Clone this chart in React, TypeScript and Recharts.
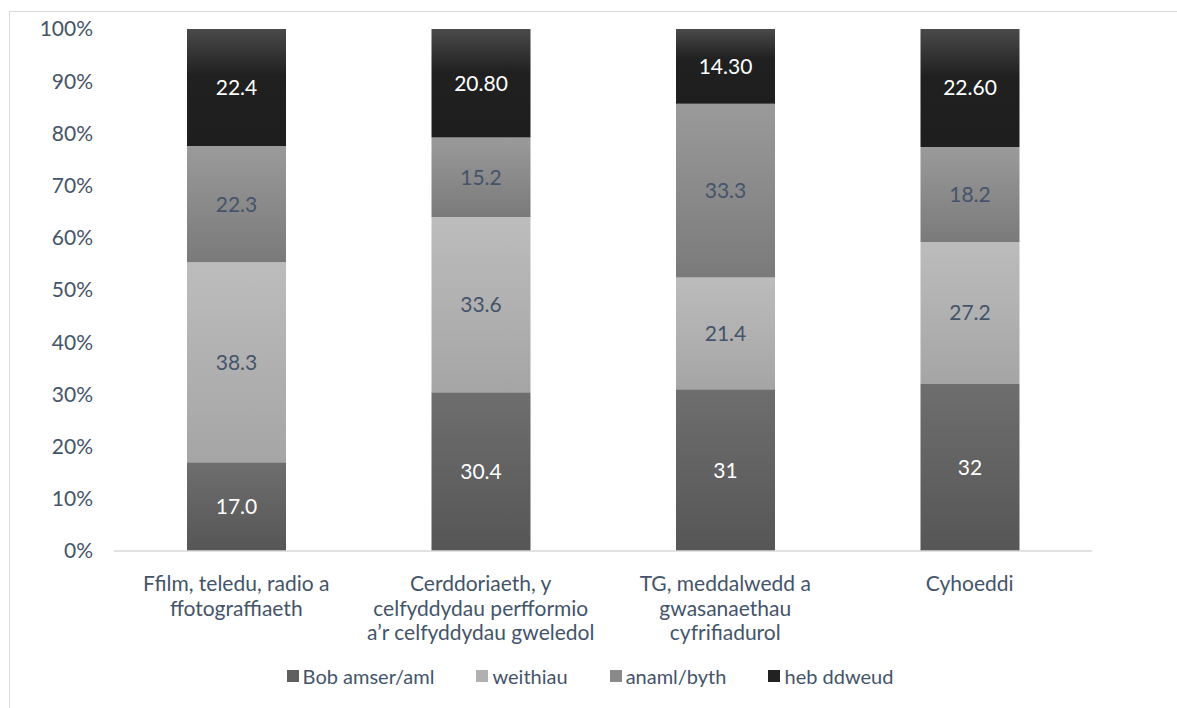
import { useLayoutEffect } from "react";
import { Bar, BarChart, LabelList, Legend, XAxis, YAxis } from "recharts";

const categories = [
  "Ffilm, teledu, radio a\nffotograffiaeth",
  "Cerddoriaeth, y\ncelfyddydau perfformio\na’r celfyddydau gweledol",
  "TG, meddalwedd a\ngwasanaethau\ncyfrifiadurol",
  "Cyhoeddi",
];

const bobAmser = [17.0, 30.4, 31, 32];
const weithiau = [38.3, 33.6, 21.4, 27.2];
const anaml = [22.3, 15.2, 33.3, 18.2];
const hebDdweud = [22.4, 20.8, 14.3, 22.6];

const bobAmserLabels = ["17.0", "30.4", "31", "32"];
const weithiauLabels = ["38.3", "33.6", "21.4", "27.2"];
const anamlLabels = ["22.3", "15.2", "33.3", "18.2"];
const hebDdweudLabels = ["22.4", "20.80", "14.30", "22.60"];

const yTicks = [0, 10, 20, 30, 40, 50, 60, 70, 80, 90, 100];

const TEXT = "#44546a";
const FONT = "Lato, Calibri, sans-serif";

const series = [
  { key: "bob", name: "Bob amser/aml", grad: "gBob", swatch: "#5f5f5f", label: "#ffffff" },
  { key: "weithiau", name: "weithiau", grad: "gWeithiau", swatch: "#b0b0b0", label: TEXT },
  { key: "anaml", name: "anaml/byth", grad: "gAnaml", swatch: "#8a8a8a", label: TEXT },
  { key: "heb", name: "heb ddweud", grad: "gHeb", swatch: "#222222", label: "#ffffff" },
];

const data = categories.map((name, i) => ({
  name,
  bob: bobAmser[i],
  weithiau: weithiau[i],
  anaml: anaml[i],
  heb: hebDdweud[i],
  bobLabel: bobAmserLabels[i],
  weithiauLabel: weithiauLabels[i],
  anamlLabel: anamlLabels[i],
  hebLabel: hebDdweudLabels[i],
}));

const CategoryTick = ({ x, y, payload }: any) => {
  const lines = String(payload.value).split("\n");
  return (
    <g transform={`translate(${x},${y})`}>
      <text textAnchor="middle" fill={TEXT} fontSize={21} fontFamily={FONT}>
        {lines.map((line, i) => (
          <tspan key={i} x={0} y={38 + i * 24.5}>
            {line}
          </tspan>
        ))}
      </text>
    </g>
  );
};

const LegendContent = () => (
  <div
    style={{
      display: "flex",
      justifyContent: "center",
      gap: 42,
      fontFamily: FONT,
      fontSize: 20,
      color: TEXT,
      lineHeight: "24px",
    }}
  >
    {series.map((s) => (
      <div key={s.key} style={{ display: "flex", alignItems: "center" }}>
        <span
          style={{
            display: "inline-block",
            width: 12,
            height: 12,
            background: s.swatch,
            marginRight: 4,
          }}
        />
        <span>{s.name}</span>
      </div>
    ))}
  </div>
);

export default function App() {
  useLayoutEffect(() => {
    document.documentElement.style.overflow = "hidden";
    document.body.style.overflow = "hidden";
  }, []);

  return (
    <div
      style={{
        position: "absolute",
        left: 9,
        top: 11,
        width: 1167,
        height: 696,
        borderTop: "1px solid #d9d9d9",
        borderLeft: "1px solid #d9d9d9",
        background: "#fff",
        overflow: "hidden",
      }}
    >
      <BarChart
        width={1160}
        height={690}
        data={data}
        barSize={99}
        margin={{ top: 17, right: 78, left: 0, bottom: 0 }}
      >
        <defs>
          <linearGradient id="gBob" x1="0" y1="0" x2="0" y2="1">
            <stop offset="0%" stopColor="#6e6e6e" />
            <stop offset="100%" stopColor="#565656" />
          </linearGradient>
          <linearGradient id="gWeithiau" x1="0" y1="0" x2="0" y2="1">
            <stop offset="0%" stopColor="#bcbcbc" />
            <stop offset="100%" stopColor="#a5a5a5" />
          </linearGradient>
          <linearGradient id="gAnaml" x1="0" y1="0" x2="0" y2="1">
            <stop offset="0%" stopColor="#9a9a9a" />
            <stop offset="100%" stopColor="#7a7a7a" />
          </linearGradient>
          <linearGradient id="gHeb" x1="0" y1="0" x2="0" y2="1">
            <stop offset="0%" stopColor="#4a4a4a" />
            <stop offset="40%" stopColor="#202020" />
            <stop offset="100%" stopColor="#1e1e1e" />
          </linearGradient>
        </defs>
        <XAxis
          dataKey="name"
          interval={0}
          height={151}
          tickLine={false}
          tickSize={0}
          axisLine={{ stroke: "#d9d9d9", strokeWidth: 1.5 }}
          tick={<CategoryTick />}
        />
        <YAxis
          domain={[0, 100]}
          ticks={yTicks}
          width={104}
          axisLine={false}
          tickLine={false}
          tickSize={0}
          tickMargin={21}
          tickFormatter={(v) => `${v}%`}
          tick={{ fill: TEXT, fontSize: 21, fontFamily: FONT }}
        />
        <Legend
          layout="horizontal"
          verticalAlign="middle"
          content={<LegendContent />}
          wrapperStyle={{ top: 652, left: 0, width: 1160 }}
        />
        {series.map((s) => (
          <Bar
            key={s.key}
            dataKey={s.key}
            name={s.name}
            stackId="a"
            fill={`url(#${s.grad})`}
            isAnimationActive={false}
          >
            <LabelList
              dataKey={`${s.key}Label`}
              position="center"
              fill={s.label}
              fontSize={21}
              fontFamily={FONT}
            />
          </Bar>
        ))}
      </BarChart>
    </div>
  );
}
